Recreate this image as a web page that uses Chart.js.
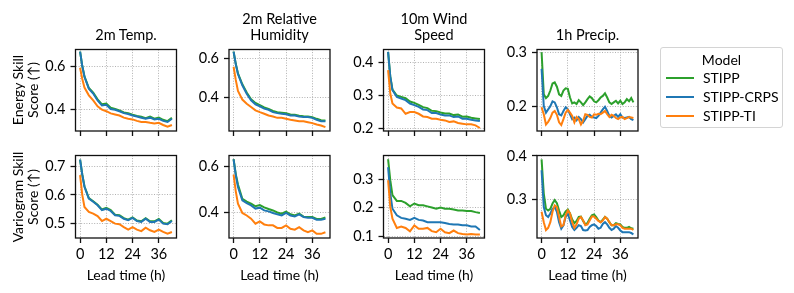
<!DOCTYPE html>
<html><head><meta charset="utf-8">
<script src="https://cdn.jsdelivr.net/npm/chart.js@4.4.0/dist/chart.umd.min.js"></script>
<style>
body{margin:0;background:#fff;width:794px;height:293px;overflow:hidden;position:relative;font-family:Lato,'DejaVu Sans',sans-serif;color:#000}
canvas{position:absolute}
.t{position:absolute;text-align:center;font-size:14.5px;line-height:16px;width:140px}
.yl{position:absolute;text-align:center;font-size:14px;line-height:15px;width:140px;transform:translate(-50%,-50%) rotate(-90deg);white-space:nowrap}
.xl{position:absolute;text-align:center;font-size:14px;width:120px;line-height:14px}
#leg{position:absolute;left:660px;top:47px;width:121px;height:79px;border:1px solid #d4d4d4;border-radius:3px;font-size:14px}
#leg .it{position:absolute;left:42px;line-height:14px;white-space:nowrap}
#leg .ln{position:absolute;left:5px;width:28px;height:2px}
</style>
</head><body>
<script>
// ---------------- data ----------------
const leadTimes = [0,1,2,4,6,8,10,12,14,16,18,20,22,24,26,28,30,32,34,36,38,40,42];
const leadTimesHourly = [0,1,2,3,4,5,6,7,8,9,10,11,12,13,14,15,16,17,18,19,20,21,22,23,24,25,26,27,28,29,30,31,32,33,34,35,36,37,38,39,40,41,42];
const xTicks = [0,12,24,36];
const xTickLabels = ['0','12','24','36'];

const models = ['STIPP','STIPP-CRPS','STIPP-TI'];
const modelColors = ['#2ca02c','#1f77b4','#ff7f0e'];
const variables = ['2m Temp.', ['2m Relative','Humidity'], ['10m Wind','Speed'], '1h Precip.'];
const metrics = [['Energy Skill','Score (\u2191)'], ['Variogram Skill','Score (\u2191)']];
const xAxisLabel = 'Lead time (h)';

// Energy skill score
const esTempSTIPP = [0.667,0.600,0.552,0.498,0.476,0.445,0.422,0.426,0.406,0.400,0.394,0.384,0.381,0.374,0.368,0.364,0.358,0.365,0.355,0.360,0.350,0.344,0.360];
const esTempCRPS  = [0.667,0.600,0.550,0.495,0.472,0.440,0.417,0.420,0.400,0.397,0.390,0.381,0.377,0.370,0.365,0.360,0.355,0.360,0.352,0.355,0.345,0.340,0.355];
const esTempTI    = [0.592,0.540,0.500,0.464,0.440,0.413,0.397,0.390,0.380,0.375,0.370,0.360,0.355,0.352,0.345,0.340,0.340,0.336,0.333,0.336,0.326,0.318,0.326];

const esHumSTIPP = [0.634,0.572,0.523,0.468,0.426,0.392,0.373,0.362,0.350,0.343,0.332,0.326,0.323,0.320,0.314,0.313,0.308,0.305,0.304,0.300,0.292,0.285,0.284];
const esHumCRPS  = [0.634,0.570,0.520,0.463,0.420,0.386,0.366,0.356,0.344,0.338,0.326,0.321,0.318,0.315,0.309,0.309,0.304,0.301,0.301,0.297,0.287,0.280,0.280];
const esHumTI    = [0.557,0.490,0.434,0.390,0.369,0.352,0.335,0.326,0.318,0.309,0.304,0.297,0.297,0.292,0.287,0.284,0.280,0.280,0.275,0.270,0.263,0.258,0.250];

const esWindSTIPP = [0.432,0.358,0.318,0.300,0.296,0.292,0.282,0.278,0.272,0.265,0.262,0.254,0.253,0.249,0.246,0.246,0.241,0.243,0.236,0.237,0.233,0.231,0.229];
const esWindCRPS  = [0.432,0.357,0.316,0.296,0.291,0.286,0.276,0.271,0.266,0.258,0.256,0.247,0.247,0.243,0.240,0.240,0.235,0.237,0.230,0.230,0.227,0.225,0.223];
const esWindTI    = [0.377,0.306,0.276,0.264,0.261,0.245,0.250,0.250,0.245,0.237,0.235,0.230,0.230,0.227,0.225,0.220,0.222,0.217,0.215,0.213,0.213,0.210,0.202];

const esPrecSTIPP = [0.300,0.222,0.215,0.219,0.229,0.242,0.244,0.236,0.222,0.219,0.229,0.233,0.232,0.216,0.205,0.207,0.204,0.211,0.207,0.202,0.207,0.213,0.218,0.215,0.209,0.207,0.211,0.216,0.219,0.224,0.216,0.207,0.204,0.207,0.210,0.205,0.210,0.204,0.207,0.213,0.209,0.215,0.207];
const esPrecCRPS  = [0.269,0.200,0.188,0.194,0.200,0.209,0.207,0.198,0.185,0.183,0.191,0.198,0.194,0.185,0.176,0.179,0.174,0.180,0.176,0.170,0.176,0.182,0.184,0.180,0.179,0.178,0.182,0.188,0.194,0.199,0.191,0.182,0.179,0.182,0.185,0.180,0.185,0.179,0.178,0.179,0.180,0.176,0.174];
const esPrecTI    = [0.198,0.185,0.166,0.171,0.178,0.188,0.191,0.184,0.170,0.165,0.176,0.188,0.193,0.188,0.182,0.170,0.180,0.176,0.166,0.173,0.185,0.184,0.180,0.179,0.185,0.184,0.186,0.185,0.188,0.191,0.185,0.180,0.184,0.182,0.178,0.176,0.179,0.180,0.176,0.178,0.180,0.179,0.178];

// Variogram skill score
const vsTempSTIPP = [0.723,0.671,0.630,0.589,0.578,0.566,0.549,0.555,0.547,0.531,0.529,0.519,0.514,0.522,0.511,0.508,0.519,0.508,0.508,0.516,0.502,0.500,0.512];
const vsTempCRPS  = [0.723,0.670,0.628,0.587,0.576,0.564,0.547,0.552,0.544,0.529,0.527,0.517,0.512,0.520,0.509,0.506,0.517,0.506,0.506,0.514,0.500,0.498,0.509];
const vsTempTI    = [0.669,0.600,0.558,0.541,0.535,0.526,0.509,0.517,0.509,0.500,0.498,0.488,0.479,0.488,0.479,0.474,0.486,0.477,0.471,0.479,0.471,0.465,0.471];

const vsHumSTIPP = [0.630,0.565,0.520,0.458,0.445,0.436,0.425,0.430,0.420,0.413,0.407,0.398,0.393,0.402,0.390,0.385,0.393,0.380,0.378,0.378,0.370,0.370,0.376];
const vsHumCRPS  = [0.629,0.560,0.509,0.451,0.439,0.429,0.415,0.419,0.407,0.403,0.396,0.390,0.385,0.396,0.385,0.381,0.390,0.378,0.375,0.375,0.366,0.366,0.371];
const vsHumTI    = [0.563,0.490,0.436,0.396,0.385,0.371,0.349,0.359,0.346,0.342,0.342,0.331,0.331,0.342,0.327,0.323,0.334,0.320,0.312,0.320,0.305,0.305,0.312];

const vsWindSTIPP = [0.369,0.296,0.244,0.224,0.224,0.217,0.205,0.215,0.209,0.209,0.205,0.201,0.197,0.201,0.197,0.197,0.194,0.191,0.191,0.189,0.189,0.185,0.182];
const vsWindCRPS  = [0.341,0.250,0.197,0.174,0.165,0.162,0.158,0.165,0.158,0.156,0.150,0.150,0.150,0.150,0.147,0.144,0.142,0.142,0.139,0.139,0.135,0.135,0.123];
const vsWindTI    = [0.296,0.203,0.162,0.130,0.135,0.130,0.118,0.139,0.127,0.127,0.130,0.119,0.115,0.127,0.115,0.112,0.121,0.112,0.109,0.107,0.109,0.107,0.107];

const vsPrecSTIPP = [0.392,0.313,0.278,0.274,0.278,0.290,0.298,0.291,0.274,0.259,0.263,0.272,0.276,0.267,0.253,0.245,0.250,0.259,0.260,0.250,0.242,0.245,0.255,0.263,0.265,0.259,0.251,0.247,0.253,0.259,0.255,0.247,0.240,0.240,0.245,0.243,0.242,0.236,0.234,0.234,0.236,0.233,0.232];
const vsPrecCRPS  = [0.367,0.282,0.263,0.259,0.267,0.278,0.282,0.271,0.247,0.232,0.240,0.259,0.267,0.251,0.236,0.229,0.234,0.240,0.238,0.229,0.228,0.229,0.236,0.240,0.242,0.238,0.232,0.234,0.243,0.247,0.242,0.234,0.229,0.232,0.238,0.234,0.228,0.224,0.224,0.224,0.224,0.222,0.219];
const vsPrecTI    = [0.271,0.247,0.229,0.234,0.247,0.271,0.286,0.282,0.259,0.237,0.240,0.263,0.274,0.267,0.247,0.234,0.242,0.255,0.259,0.251,0.240,0.242,0.251,0.260,0.260,0.255,0.250,0.247,0.251,0.259,0.255,0.247,0.240,0.240,0.242,0.242,0.240,0.234,0.232,0.232,0.232,0.232,0.229];

// y tick values per panel
const yTicksEsTemp = [0.4,0.6], yTicksEsHum = [0.4,0.6], yTicksEsWind = [0.2,0.3,0.4], yTicksEsPrec = [0.2,0.3];
const yTicksVsTemp = [0.5,0.6,0.7], yTicksVsHum = [0.4,0.6], yTicksVsWind = [0.1,0.2,0.3], yTicksVsPrec = [0.3,0.4];

// ---------------- layout ----------------
const colLeft = [75.5, 229, 383.5, 537];
const plotW = 101;
const rowTop = [49.5, 155.5];
const plotH = [81, 82];
const xMin = -2.1, xMax = 44.1;

const panels = [
  {r:0,c:0,x:leadTimes,s:[esTempSTIPP,esTempCRPS,esTempTI],yt:yTicksEsTemp,ymin:0.298,ymax:0.677},
  {r:0,c:1,x:leadTimes,s:[esHumSTIPP,esHumCRPS,esHumTI],yt:yTicksEsHum,ymin:0.230,ymax:0.645},
  {r:0,c:2,x:leadTimes,s:[esWindSTIPP,esWindCRPS,esWindTI],yt:yTicksEsWind,ymin:0.193,ymax:0.439},
  {r:0,c:3,x:leadTimesHourly,s:[esPrecSTIPP,esPrecCRPS,esPrecTI],yt:yTicksEsPrec,ymin:0.154,ymax:0.305},
  {r:1,c:0,x:leadTimes,s:[vsTempSTIPP,vsTempCRPS,vsTempTI],yt:yTicksVsTemp,ymin:0.450,ymax:0.737},
  {r:1,c:1,x:leadTimes,s:[vsHumSTIPP,vsHumCRPS,vsHumTI],yt:yTicksVsHum,ymin:0.287,ymax:0.646},
  {r:1,c:2,x:leadTimes,s:[vsWindSTIPP,vsWindCRPS,vsWindTI],yt:yTicksVsWind,ymin:0.095,ymax:0.382},
  {r:1,c:3,x:leadTimesHourly,s:[vsPrecSTIPP,vsPrecCRPS,vsPrecTI],yt:yTicksVsPrec,ymin:0.2105,ymax:0.401}
];

const AXW = 50, AXH = 34, PT = 8, PR = 6;
const FONT = {family:'Lato', size:14.5};

const framePlugin = {
  id:'frame',
  afterDraw(chart){
    const a = chart.chartArea, ctx = chart.ctx;
    ctx.save();
    ctx.strokeStyle = '#111';
    ctx.lineWidth = 1.3;
    ctx.strokeRect(a.left, a.top, a.right - a.left, a.bottom - a.top);
    ctx.restore();
  }
};

panels.forEach(p => {
  const L = colLeft[p.c], T = rowTop[p.r], H = plotH[p.r];
  const cl = Math.floor(L - AXW), ct = Math.floor(T - PT);
  const padL = (L - AXW) - cl, padT = (T - PT) - ct + PT;
  const cv = document.createElement('canvas');
  const cw = AXW + plotW + PR + Math.ceil(padL), ch = Math.ceil(padT) + H + AXH;
  cv.style.left = cl + 'px'; cv.style.top = ct + 'px';
  cv.style.width = cw + 'px'; cv.style.height = ch + 'px';
  cv.width = cw; cv.height = ch;
  document.body.appendChild(cv);
  const datasets = models.map((m, i) => ({
    label: m,
    data: p.x.map((x, k) => ({x: x, y: p.s[i][k]})),
    borderColor: modelColors[i],
    borderWidth: 2,
    pointRadius: 0,
    tension: 0,
    fill: false,
    order: 3 - i
  }));
  new Chart(cv, {
    type: 'line',
    data: {datasets},
    plugins: [framePlugin],
    options: {
      responsive: false,
      animation: false,
      devicePixelRatio: 1,
      layout: {padding: {left: padL, top: padT, right: cw - AXW - plotW - padL, bottom: 0}},
      plugins: {legend: {display: false}, tooltip: {enabled: false}},
      scales: {
        x: {
          type: 'linear', min: xMin, max: xMax,
          afterBuildTicks: s => { s.ticks = xTicks.map(v => ({value: v})); },
          afterFit: s => { s.height = AXH; s.paddingLeft = 0; s.paddingRight = 0; },
          ticks: {display: p.r === 1, font: FONT, color: '#000', padding: 3, maxRotation: 0,
                  callback: (v) => xTickLabels[xTicks.indexOf(v)]},
          grid: {color: '#a8a8a8', lineWidth: 0.9, drawTicks: true, tickLength: 5, tickColor: '#111', tickWidth: 1.3},
          border: {display: false, dash: [1, 1.6]}
        },
        y: {
          type: 'linear', min: p.ymin, max: p.ymax,
          afterBuildTicks: s => { s.ticks = p.yt.map(v => ({value: v})); },
          afterFit: s => { s.width = AXW; s.paddingTop = 0; s.paddingBottom = 0; },
          ticks: {font: FONT, color: '#000', padding: 5, callback: v => v.toFixed(1)},
          grid: {color: '#a8a8a8', lineWidth: 0.9, drawTicks: true, tickLength: 5, tickColor: '#111', tickWidth: 1.3},
          border: {display: false, dash: [1, 1.6]}
        }
      }
    }
  });
});

// ---------------- text ----------------
function addDiv(cls, html, style){
  const d = document.createElement('div');
  d.className = cls; d.innerHTML = html;
  Object.assign(d.style, style);
  document.body.appendChild(d);
  return d;
}
variables.forEach((v, c) => {
  const cx = colLeft[c] + plotW / 2;
  const txt = Array.isArray(v) ? v.join('<br>') : v;
  addDiv('t', txt, {left: (cx - 70) + 'px', bottom: (293 - 43) + 'px'});
  addDiv('xl', xAxisLabel, {left: (cx - 60) + 'px', top: (274.5 - 7) + 'px'});
});
metrics.forEach((m, r) => {
  const cy = rowTop[r] + plotH[r] / 2;
  addDiv('yl', m.join('<br>'), {left: '25px', top: cy + 'px'});
});
// legend
const leg = addDiv('', '', {});
leg.id = 'leg';
const lt = document.createElement('div');
lt.textContent = 'Model';
Object.assign(lt.style, {position:'absolute', left:'0', width:'100%', textAlign:'center', top:'5px', lineHeight:'14px'});
leg.appendChild(lt);
const itemY = [30, 48.5, 67.5];
models.forEach((m, i) => {
  const ln = document.createElement('div'); ln.className = 'ln';
  ln.style.top = (itemY[i] - 1) + 'px'; ln.style.background = modelColors[i];
  leg.appendChild(ln);
  const it = document.createElement('div'); it.className = 'it';
  it.textContent = m; it.style.top = (itemY[i] - 7) + 'px';
  leg.appendChild(it);
});
</script>
</body></html>
